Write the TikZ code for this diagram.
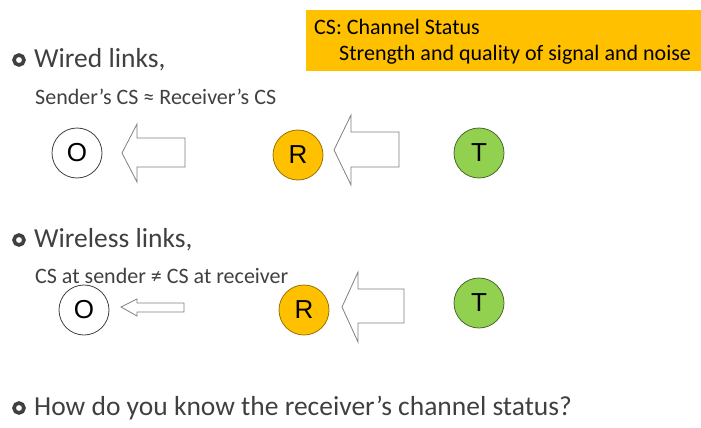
\documentclass[tikz,border=0pt]{standalone}
\usepackage{fontspec}
\setmainfont{Carlito}
\newfontfamily\arialfont{Liberation Sans}
\definecolor{csgold}{HTML}{FFC000}
\definecolor{csgreen}{HTML}{92D050}
\definecolor{txtgray}{HTML}{404040}
\definecolor{arrgray}{HTML}{808080}
\tikzset{
  station/.style={circle, minimum size=50pt, inner sep=0pt, line width=0.8pt,
    font=\arialfont\fontsize{26}{26}\selectfont},
  headline/.style={anchor=base west, inner sep=0pt, text=txtgray,
    font=\fontsize{27.5}{27.5}\selectfont},
  subline/.style={anchor=base west, inner sep=0pt, text=txtgray,
    font=\fontsize{22}{22}\selectfont},
  bullet/.style={draw=txtgray, line width=3.6pt},
  blockarrow/.style={draw=arrgray, line width=0.8pt, fill=white, line join=miter}
}
\begin{document}
\begin{tikzpicture}[x=1pt, y=-1pt]
  \useasboundingbox (0,0) rectangle (701,428);
  % legend box
  \fill[csgold] (306,10) rectangle (701,71);
  \node[anchor=base west, inner sep=0pt, font=\fontsize{22}{22}\selectfont] (cs) at (314,35) {CS: Channel Status};
  \node[anchor=base west, inner sep=0pt, font=\fontsize{22}{22}\selectfont] (csdef) at (339,61) {Strength and quality of signal and noise};
  % wired
  \draw[bullet] (19,60) circle (5);
  \node[headline] (wired) at (34,67) {Wired links,};
  \node[subline] (wiredcs) at (35,104) {Sender’s CS ≈ Receiver’s CS};
  \node[station, draw=txtgray] (o1) at (77,153) {O};
  \node[station, fill=csgold, draw=csgold!60!black] (r1) at (298,155) {R};
  \node[station, fill=csgreen, draw=csgreen!50!black] (t1) at (479,153) {T};
  \draw[blockarrow] (122,153) -- (137,124) -- (137,138) -- (185,138) -- (185,167) -- (137,167) -- (137,182) -- cycle;
  \draw[blockarrow] (334,150) -- (351,115) -- (351,132) -- (399,132) -- (399,167) -- (351,167) -- (351,185) -- cycle;
  % wireless
  \draw[bullet] (19,240) circle (5);
  \node[headline] (wireless) at (34,247) {Wireless links,};
  \node[subline] (wirelesscs) at (35,283) {CS at sender ≠ CS at receiver};
  \node[station, draw=txtgray] (o2) at (84,310) {O};
  \node[station, fill=csgold, draw=csgold!60!black] (r2) at (304,310) {R};
  \node[station, fill=csgreen, draw=csgreen!50!black] (t2) at (479,303) {T};
  \draw[blockarrow] (121,307) -- (137,299) -- (137,303) -- (184,303) -- (184,312) -- (137,312) -- (137,316) -- cycle;
  \draw[blockarrow] (342,307) -- (358,272) -- (358,289) -- (404,289) -- (404,323) -- (358,323) -- (358,342) -- cycle;
  % question
  \draw[bullet] (19,408) circle (5);
  \node[headline] (question) at (34,415) {How do you know the receiver’s channel status?};
\end{tikzpicture}
\end{document}
